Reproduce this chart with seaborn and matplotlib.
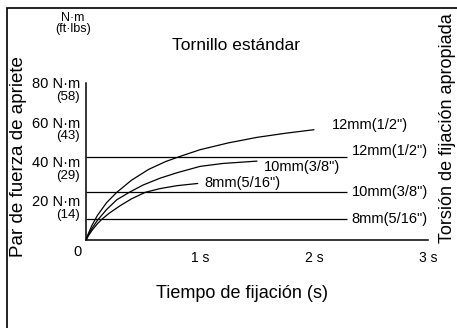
import matplotlib
matplotlib.use("Agg")
import matplotlib.pyplot as plt
import seaborn as sns
import pandas as pd
from matplotlib.patches import Rectangle

# Tightening curves (time in s, torque in N·m)
time_12 = [0, 0.02, 0.05, 0.1, 0.18, 0.27, 0.4, 0.55, 0.7, 0.82, 1.0, 1.25, 1.5, 1.75, 2.0]
torque_12 = [0, 3.2, 7.2, 12.5, 19, 24.3, 30.5, 36, 40, 42.5, 46, 49.5, 52.3, 54.4, 56.2]
time_10 = [0, 0.02, 0.05, 0.1, 0.18, 0.27, 0.38, 0.5, 0.65, 0.8, 1.0, 1.2, 1.5]
torque_10 = [0, 2.5, 5.7, 10, 15.5, 20.5, 24.3, 28, 31.5, 34.3, 37.5, 39, 40.2]
time_8 = [0, 0.02, 0.05, 0.1, 0.14, 0.2, 0.3, 0.4, 0.52, 0.65, 0.8, 0.98]
torque_8 = [0, 2.1, 4.7, 8.3, 10.6, 13.5, 17.5, 21, 24.3, 26.2, 27.7, 28.8]

curve_labels = ['12mm(1/2")', '10mm(3/8")', '8mm(5/16")']

# Appropriate tightening torque per bolt size
proper_labels = ['12mm(1/2")', '10mm(3/8")', '8mm(5/16")']
proper_torque = [42.5, 24.3, 10.5]
proper_end = 2.29

y_ticks = [20, 40, 60, 80]
y_tick_labels = ['20 N·m', '40 N·m', '60 N·m', '80 N·m']
ftlbs_labels = ['(14)', '(29)', '(43)', '(58)']
x_ticks = [1, 2, 3]
x_tick_labels = ['1 s', '2 s', '3 s']

W, H = 457, 328


def fx(px):
    return px / W


def fy(py):
    return 1 - py / H


sns.set_theme(style="white")
plt.rcParams['font.family'] = ['Liberation Sans', 'DejaVu Sans']
plt.rcParams['text.color'] = 'black'

df = pd.concat([
    pd.DataFrame({'t': time_12, 'torque': torque_12, 'size': curve_labels[0]}),
    pd.DataFrame({'t': time_10, 'torque': torque_10, 'size': curve_labels[1]}),
    pd.DataFrame({'t': time_8, 'torque': torque_8, 'size': curve_labels[2]}),
])

fig = plt.figure(figsize=(W / 100, H / 100), dpi=100)
ax = fig.add_axes([fx(86), fy(240), fx(428) - fx(86), fy(83) - fy(240)])

sns.lineplot(data=df, x='t', y='torque', units='size', estimator=None,
             color='black', linewidth=0.9, sort=False, ax=ax, legend=False)

ax.hlines(proper_torque, 0, proper_end, color='black', linewidth=0.9)

# labels next to the curve ends
ends = df.groupby('size', sort=False).last()
offsets = {curve_labels[0]: (0.16, 2.2), curve_labels[1]: (0.06, -2.8), curve_labels[2]: (0.06, 0.4)}
for name, row in ends.iterrows():
    dx, dy = offsets[name]
    ax.text(row['t'] + dx, row['torque'] + dy, name, fontsize=10.5,
            ha='left', va='center')

# labels for the appropriate torque lines
for name, val in zip(proper_labels, proper_torque):
    dy = 3 if val == max(proper_torque) else 0
    ax.text(proper_end + 0.04, val + dy, name, fontsize=10.5, ha='left', va='center',
            clip_on=False)

ax.set_xlim(0, 3)
ax.set_ylim(0, 80)
ax.set_xticks(x_ticks)
ax.set_xticklabels(x_tick_labels, fontsize=10)
ax.set_yticks(y_ticks)
ax.set_yticklabels(y_tick_labels, fontsize=10.5)
ax.tick_params(axis='y', direction='in', length=7, width=1, pad=4, colors='black')
ax.tick_params(axis='x', direction='in', length=6.5, width=1, pad=8, colors='black')
ax.set_xlabel('')
ax.set_ylabel('')
for side in ['top', 'right']:
    ax.spines[side].set_visible(False)
for side in ['left', 'bottom']:
    ax.spines[side].set_color('black')
    ax.spines[side].set_linewidth(1.1)
ax.set_facecolor('none')

for val, lab in zip(y_ticks, ftlbs_labels):
    ax.annotate(lab, xy=(0, val), xycoords=('axes fraction', 'data'),
                xytext=(-6, -14), textcoords='offset pixels',
                ha='right', va='center', fontsize=9.5)
ax.annotate('0', xy=(0, 0), xycoords='data', xytext=(-8, -12),
            textcoords='offset pixels', ha='center', va='center', fontsize=10.5)

# frame and titles
fig.add_artist(Rectangle((fx(7), -0.2), 1.5, fy(8) + 0.2, fill=False,
                         edgecolor='black', linewidth=1.2,
                         transform=fig.transFigure))
fig.text(fx(73), fy(18), 'N·m', fontsize=9, ha='center', va='center')
fig.text(fx(73), fy(29), '(ft·lbs)', fontsize=9, ha='center', va='center')
fig.text(fx(236), fy(46), 'Tornillo estándar', fontsize=12.5, ha='center', va='center')
fig.text(fx(242), fy(293), 'Tiempo de fijación (s)', fontsize=13, ha='center', va='center')
fig.text(fx(19), fy(157), 'Par de fuerza de apriete', fontsize=13.5,
         rotation=90, ha='center', va='center')
fig.text(fx(447), fy(128), 'Torsión de fijación apropiada', fontsize=13,
         rotation=90, ha='center', va='center')

fig.savefig('out.png', dpi=100, facecolor='white')
